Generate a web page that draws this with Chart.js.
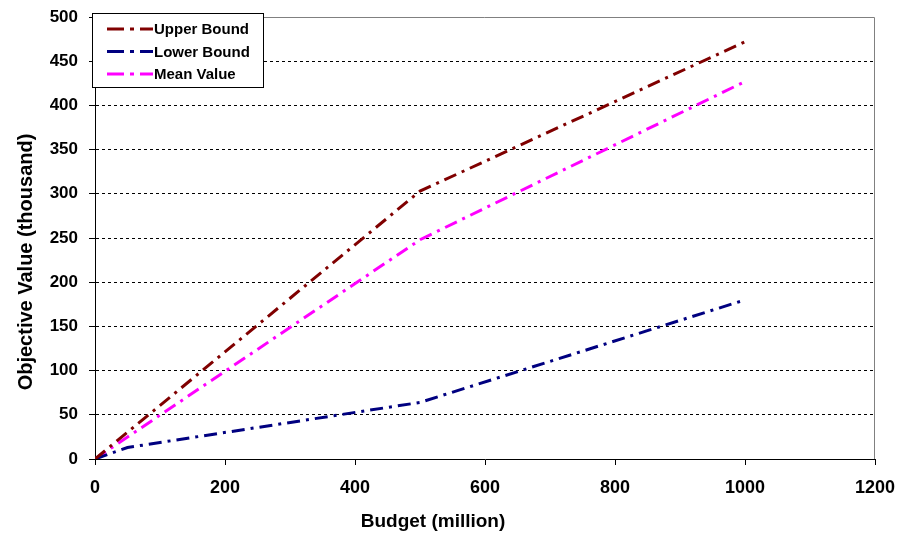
<!DOCTYPE html>
<html>
<head>
<meta charset="utf-8">
<script src="https://cdn.jsdelivr.net/npm/chart.js@4/dist/chart.umd.min.js"></script>
<style>
  body { margin: 0; background: #fff; }
  canvas { display: block; }
</style>
</head>
<body>
<canvas id="boundsChart" width="899" height="538"></canvas>
<script>
// Valores
const upperBudget = [0, 500, 1000];
const upperBound = [0, 303, 472];
const lowerBudget = [0, 50, 500, 1000];
const lowerBound = [0, 13, 64, 180];
const meanBudget = [0, 500, 1000];
const meanValue = [0, 248, 427];
const seriesNames = ['Upper Bound', 'Lower Bound', 'Mean Value'];
const xTitle = 'Budget (million)';
const yTitle = 'Objective Value (thousand)';

const toPoints = (xs, ys) => xs.map((x, i) => ({ x: x, y: ys[i] }));

const dashDot = [13, 6, 3, 6];

const data = {
    datasets: [{
        label: seriesNames[0],
        data: toPoints(upperBudget, upperBound),
        borderColor: '#800000',
    }, {
        label: seriesNames[1],
        data: toPoints(lowerBudget, lowerBound),
        borderColor: '#000080',
    }, {
        label: seriesNames[2],
        data: toPoints(meanBudget, meanValue),
        borderColor: '#ff00ff',
    }]
};
data.datasets.forEach(ds => {
    ds.borderWidth = 3;
    ds.borderDash = dashDot;
    ds.pointRadius = 0;
    ds.tension = 0;
    ds.fill = false;
});

// borde gris del area + titulos de ejes + leyenda dentro del grafico
const extras = {
    id: 'extras',
    beforeDatasetsDraw(chart) {
        const { ctx, chartArea: a } = chart;
        ctx.save();
        ctx.strokeStyle = '#808080';
        ctx.lineWidth = 1;
        ctx.beginPath();
        ctx.moveTo(a.left, a.top + 0.5);
        ctx.lineTo(a.right - 0.5, a.top + 0.5);
        ctx.lineTo(a.right - 0.5, a.bottom);
        ctx.stroke();
        ctx.restore();
    },
    afterDraw(chart) {
        const ctx = chart.ctx;
        ctx.save();
        ctx.fillStyle = '#000';
        ctx.textAlign = 'center';
        ctx.textBaseline = 'middle';
        ctx.font = 'bold 19px "Liberation Sans", Arial, sans-serif';
        ctx.fillText(xTitle, 433, 522);
        ctx.translate(26, 262);
        ctx.rotate(-Math.PI / 2);
        ctx.font = 'bold 20px "Liberation Sans", Arial, sans-serif';
        ctx.fillText(yTitle, 0, 0);
        ctx.restore();

        // leyenda
        ctx.save();
        ctx.fillStyle = '#fff';
        ctx.fillRect(92.5, 13.5, 171, 74);
        ctx.strokeStyle = '#000';
        ctx.lineWidth = 1;
        ctx.strokeRect(92.5, 13.5, 171, 74);
        chart.data.datasets.forEach((ds, i) => {
            const y = 29 + i * 22.5;
            ctx.setLineDash([17, 6, 4, 6]);
            ctx.strokeStyle = ds.borderColor;
            ctx.lineWidth = 3;
            ctx.beginPath();
            ctx.moveTo(107, y);
            ctx.lineTo(153, y);
            ctx.stroke();
            ctx.setLineDash([]);
            ctx.fillStyle = '#000';
            ctx.font = 'bold 15px "Liberation Sans", Arial, sans-serif';
            ctx.textAlign = 'left';
            ctx.textBaseline = 'middle';
            ctx.fillText(ds.label, 154, y + 1);
        });
        ctx.restore();
    }
};

const config = {
    type: 'line',
    data: data,
    options: {
        responsive: false,
        animation: false,
        layout: {
            padding: { left: 0, right: 24, top: 17, bottom: 0 }
        },
        scales: {
            x: {
                type: 'linear',
                min: 0,
                max: 1200,
                ticks: {
                    stepSize: 200,
                    color: '#000',
                    padding: 12,
                    maxRotation: 0,
                    callback: value => String(value),
                    font: { family: '"Liberation Sans", Arial, sans-serif', size: 18, weight: 'bold' }
                },
                grid: {
                    drawOnChartArea: false,
                    tickLength: 6,
                    color: '#000'
                },
                border: { color: '#000', width: 1 },
                afterFit: scale => {
                    scale.height = 79;
                    scale.paddingLeft = 0;
                    scale.paddingRight = 0;
                }
            },
            y: {
                min: 0,
                max: 500,
                ticks: {
                    stepSize: 50,
                    color: '#000',
                    padding: 11,
                    font: { family: '"Liberation Sans", Arial, sans-serif', size: 17, weight: 'bold' }
                },
                grid: {
                    color: '#000',
                    lineWidth: 1,
                    tickLength: 6,
                    tickColor: '#000'
                },
                border: { color: '#000', width: 1, dash: [3, 3] },
                afterFit: scale => {
                    scale.width = 95;
                    scale.paddingTop = 0;
                    scale.paddingBottom = 0;
                }
            }
        },
        plugins: {
            legend: { display: false },
            tooltip: { enabled: false }
        }
    },
    plugins: [extras]
};

const ctx = document.getElementById('boundsChart').getContext('2d');
const boundsChart = new Chart(ctx, config);
</script>
</body>
</html>
